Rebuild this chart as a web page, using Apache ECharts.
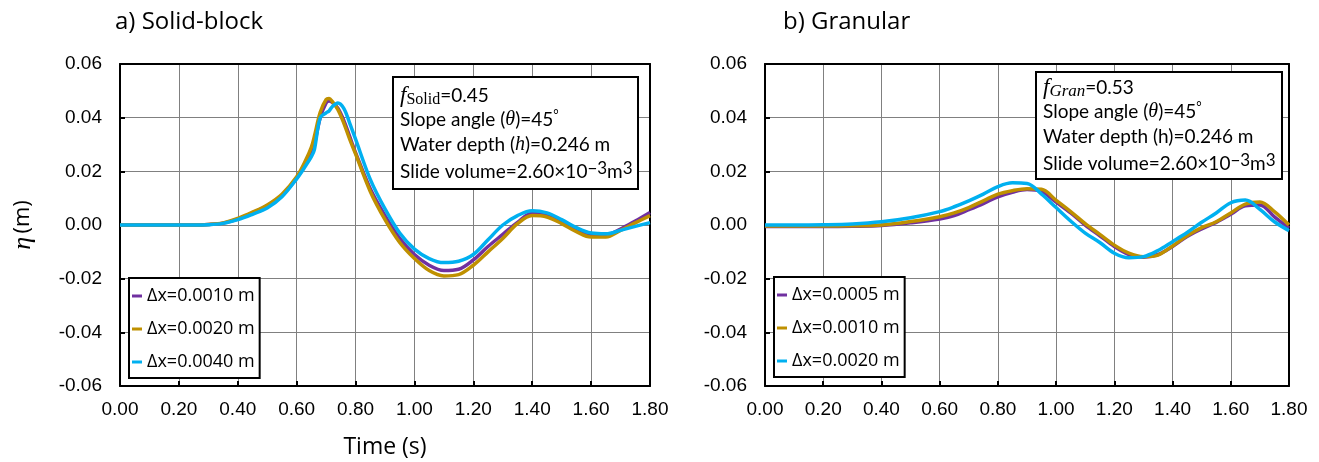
<!DOCTYPE html>
<html><head><meta charset="utf-8">
<script src="https://cdn.jsdelivr.net/npm/echarts@6/dist/echarts.min.js"></script>
<style>html,body{margin:0;padding:0;background:#fff}#c{width:1319px;height:462px}</style>
</head><body><div id="c"></div>
<script>
// ---- data ----
const timeSolid = [0, 0.10, 0.20, 0.25, 0.30, 0.35, 0.40, 0.45, 0.50, 0.55, 0.60, 0.63, 0.65, 0.66, 0.68, 0.70, 0.71, 0.72, 0.74, 0.76, 0.78, 0.80, 0.85, 0.90, 0.95, 1.00, 1.05, 1.10, 1.15, 1.20, 1.25, 1.30, 1.35, 1.40, 1.45, 1.50, 1.55, 1.60, 1.65, 1.70, 1.75, 1.80];
const solidDx0010 = [0, 0, 0, 0, 0.0002, 0.0007, 0.0022, 0.0045, 0.0072, 0.0110, 0.0175, 0.0230, 0.0270, 0.0300, 0.0400, 0.0455, 0.0462, 0.0458, 0.0435, 0.0390, 0.0330, 0.0270, 0.0135, 0.0035, -0.0050, -0.0110, -0.0150, -0.0170, -0.0165, -0.0130, -0.0080, -0.0035, 0.0010, 0.0044, 0.0040, 0.0015, -0.0020, -0.0040, -0.0038, -0.0015, 0.0015, 0.0047];
const solidDx0020 = [0, 0, 0, 0, 0.0002, 0.0008, 0.0025, 0.0048, 0.0075, 0.0115, 0.0180, 0.0240, 0.0290, 0.0330, 0.0420, 0.0468, 0.0471, 0.0462, 0.0430, 0.0380, 0.0320, 0.0265, 0.0125, 0.0020, -0.0065, -0.0125, -0.0170, -0.0190, -0.0185, -0.0150, -0.0100, -0.0050, 0.0005, 0.0035, 0.0030, 0.0005, -0.0025, -0.0045, -0.0045, -0.0020, 0.0008, 0.0035];
const solidDx0040 = [0, 0, 0, 0, 0.0001, 0.0006, 0.0020, 0.0040, 0.0063, 0.0105, 0.0172, 0.0220, 0.0255, 0.0280, 0.0400, 0.0418, 0.0425, 0.0440, 0.0455, 0.0435, 0.0380, 0.0320, 0.0170, 0.0060, -0.0030, -0.0090, -0.0125, -0.0140, -0.0135, -0.0110, -0.0055, 0.0000, 0.0035, 0.0053, 0.0045, 0.0020, -0.0010, -0.0030, -0.0033, -0.0020, -0.0005, 0.0009];

const timeGran = [0, 0.10, 0.20, 0.30, 0.40, 0.50, 0.60, 0.65, 0.70, 0.75, 0.80, 0.85, 0.90, 0.95, 1.00, 1.05, 1.10, 1.15, 1.20, 1.25, 1.30, 1.35, 1.40, 1.45, 1.50, 1.55, 1.60, 1.65, 1.70, 1.75, 1.80];
const granDx0005 = [-0.0006, -0.0006, -0.0006, -0.0005, -0.0002, 0.0008, 0.0022, 0.0035, 0.0057, 0.0080, 0.0105, 0.0122, 0.0132, 0.0125, 0.0085, 0.0045, 0.0000, -0.0040, -0.0080, -0.0110, -0.0120, -0.0110, -0.0080, -0.0043, -0.0015, 0.0010, 0.0040, 0.0072, 0.0075, 0.0030, -0.0012];
const granDx0010 = [-0.0004, -0.0004, -0.0004, -0.0003, 0.0000, 0.0013, 0.0031, 0.0045, 0.0065, 0.0090, 0.0115, 0.0128, 0.0135, 0.0133, 0.0092, 0.0050, 0.0005, -0.0035, -0.0075, -0.0105, -0.0118, -0.0112, -0.0078, -0.0040, -0.0010, 0.0012, 0.0045, 0.0078, 0.0086, 0.0050, 0.0000];
const granDx0020 = [0.0000, 0.0000, 0.0001, 0.0004, 0.0012, 0.0027, 0.0050, 0.0068, 0.0090, 0.0115, 0.0143, 0.0157, 0.0155, 0.0115, 0.0065, 0.0015, -0.0030, -0.0065, -0.0105, -0.0122, -0.0118, -0.0095, -0.0062, -0.0028, 0.0010, 0.0045, 0.0083, 0.0093, 0.0058, 0.0012, -0.0021];

const solidNames = ['Δx=0.0010 m', 'Δx=0.0020 m', 'Δx=0.0040 m'];
const granNames = ['Δx=0.0005 m', 'Δx=0.0010 m', 'Δx=0.0020 m'];
const xTicks = {min: 0, max: 1.8, step: 0.2};
const yTicks = {min: -0.06, max: 0.06, step: 0.02};

// ---- styles ----
const PURPLE = '#7030A0', GOLD = '#BF9000', CYAN = '#00B0F0';
const colors = [PURPLE, GOLD, CYAN];
const tickFont = 'Liberation Sans, Arial, sans-serif';
const uiFont = 'Open Sans, Noto Sans, sans-serif';
const noteFont = 'Lato, Open Sans, sans-serif';
const serif = 'Liberation Serif, DejaVu Serif, serif';

const fmt = v => (Math.abs(v) < 1e-9 ? 0 : v).toFixed(2);

function pairs(t, v) { return t.map((x, i) => [x, v[i]]); }

const grids = [
  {left: 120, top: 64, width: 530, height: 322},
  {left: 765, top: 64, width: 524, height: 322}
];

function mainX(gi) {
  return {
    type: 'value', gridIndex: gi, min: xTicks.min, max: xTicks.max, interval: xTicks.step,
    axisLine: {show: true, onZero: false, lineStyle: {color: '#000', width: 2}},
    axisTick: {show: true, inside: true, length: 5, lineStyle: {color: '#000', width: 2}},
    axisLabel: {formatter: fmt, fontSize: 19, fontFamily: tickFont, color: '#000', margin: 14},
    splitLine: {show: true, lineStyle: {color: '#808080', width: 1}}
  };
}
function mainY(gi) {
  return {
    type: 'value', gridIndex: gi, min: yTicks.min, max: yTicks.max, interval: yTicks.step,
    axisLine: {show: true, onZero: false, lineStyle: {color: '#000', width: 2}},
    axisTick: {show: true, inside: true, length: 5, lineStyle: {color: '#000', width: 2}},
    axisLabel: {formatter: fmt, fontSize: 19, fontFamily: tickFont, color: '#000', margin: 18},
    splitLine: {show: true, lineStyle: {color: '#808080', width: 1}}
  };
}
function frameX(gi) {
  return {type: 'value', gridIndex: gi, position: 'top', min: xTicks.min, max: xTicks.max,
    axisLine: {show: true, onZero: false, lineStyle: {color: '#000', width: 2}},
    axisTick: {show: false}, axisLabel: {show: false}, splitLine: {show: false}};
}
function frameY(gi) {
  return {type: 'value', gridIndex: gi, position: 'right', min: yTicks.min, max: yTicks.max,
    axisLine: {show: true, onZero: false, lineStyle: {color: '#000', width: 2}},
    axisTick: {show: false}, axisLabel: {show: false}, splitLine: {show: false}};
}

function line(name, t, v, gi, color) {
  return {
    type: 'line', name: name, xAxisIndex: gi, yAxisIndex: gi, data: pairs(t, v),
    showSymbol: false, smooth: 0.35, color: color,
    lineStyle: {color: color, width: 3.5}, itemStyle: {color: color}, animation: false, z: 3
  };
}

function legendFor(names, left, top) {
  return {
    orient: 'vertical', left: left, top: top, padding: [9, 5, 7, 3], itemGap: 15,
    itemWidth: 10, itemHeight: 3, icon: 'rect',
    borderColor: '#000', borderWidth: 2, backgroundColor: '#fff', borderRadius: 0,
    textStyle: {fontFamily: uiFont, fontSize: 18, color: '#000', lineHeight: 18},
    data: names.map((n, i) => ({name: n, itemStyle: {color: colors[i]}})),
    selectedMode: false, z: 10
  };
}

const nRich = {
  n: {fontFamily: noteFont, fontSize: 19, color: '#000', lineHeight: 24, verticalAlign: 'middle'},
  fi: {fontFamily: serif, fontStyle: 'italic', fontSize: 23, color: '#000', lineHeight: 24, verticalAlign: 'middle'},
  sub: {fontFamily: serif, fontSize: 16, color: '#000', lineHeight: 14, verticalAlign: 'bottom'},
  subi: {fontFamily: serif, fontStyle: 'italic', fontSize: 17, color: '#000', lineHeight: 14, verticalAlign: 'bottom'},
  it: {fontFamily: serif, fontStyle: 'italic', fontSize: 20, color: '#000', lineHeight: 24, verticalAlign: 'middle'},
  sup: {fontFamily: noteFont, fontSize: 17, color: '#000', lineHeight: 10, verticalAlign: 'top'},
  deg: {fontFamily: noteFont, fontSize: 13, color: '#000', lineHeight: 10, verticalAlign: 'top'}
};

function note(box, x, ys, lines) {
  const els = [{type: 'rect', shape: box, style: {fill: '#fff', stroke: '#000', lineWidth: 2}, z: 100}];
  lines.forEach((txt, i) => {
    els.push({type: 'text', x: x, y: ys[i], z: 101,
      style: {text: txt, rich: nRich, verticalAlign: 'middle', align: 'left'}});
  });
  return els;
}

const notesSolid = [
  '{fi|f}{sub|Solid}{n|=0.45}',
  '{n|Slope angle (}{it|θ}{n|)=45}{deg|°}',
  '{n|Water depth (}{it|h}{n|)=0.246 m}',
  '{n|Slide volume=2.60×10}{sup|−3}{n|m}{sup|3}'
];
const notesGran = [
  '{fi|f}{subi|Gran}{n|=0.53}',
  '{n|Slope angle (}{it|θ}{n|)=45}{deg|°}',
  '{n|Water depth (h)=0.246 m}',
  '{n|Slide volume=2.60×10}{sup|−3}{n|m}{sup|3}'
];

const graphic = [
  {type: 'text', x: 115, y: 22, style: {text: 'a) Solid-block', font: '24px ' + uiFont, fill: '#000', verticalAlign: 'middle'}},
  {type: 'text', x: 783, y: 22, style: {text: 'b) Granular', font: '24px ' + uiFont, fill: '#000', verticalAlign: 'middle'}},
  {type: 'text', x: 385, y: 447, style: {text: 'Time (s)', font: '23px ' + uiFont, fill: '#000', align: 'center', verticalAlign: 'middle'}},
  {type: 'text', x: 23, y: 225, rotation: Math.PI / 2,
    style: {text: '{e|η} {m|(m)}', align: 'center', verticalAlign: 'middle',
      rich: {e: {fontFamily: serif, fontStyle: 'italic', fontSize: 26, color: '#000'},
             m: {fontFamily: uiFont, fontSize: 22, color: '#000'}}}}
].concat(
  note({x: 393, y: 77, width: 245, height: 112}, 400, [96, 120, 145, 172], notesSolid),
  note({x: 1036, y: 72, width: 246, height: 107}, 1043, [88, 112, 137, 164], notesGran)
);

const option = {
  backgroundColor: '#fff',
  animation: false,
  grid: grids,
  xAxis: [mainX(0), mainX(1), frameX(0), frameX(1)],
  yAxis: [mainY(0), mainY(1), frameY(0), frameY(1)],
  legend: [legendFor(solidNames, 129, 278), legendFor(granNames, 774, 277)],
  series: [
    line(solidNames[0], timeSolid, solidDx0010, 0, PURPLE),
    line(solidNames[1], timeSolid, solidDx0020, 0, GOLD),
    line(solidNames[2], timeSolid, solidDx0040, 0, CYAN),
    line(granNames[0], timeGran, granDx0005, 1, PURPLE),
    line(granNames[1], timeGran, granDx0010, 1, GOLD),
    line(granNames[2], timeGran, granDx0020, 1, CYAN)
  ],
  graphic: graphic
};

const chart = echarts.init(document.getElementById('c'), null, {renderer: 'canvas'});
chart.setOption(option);
</script>
</body></html>
